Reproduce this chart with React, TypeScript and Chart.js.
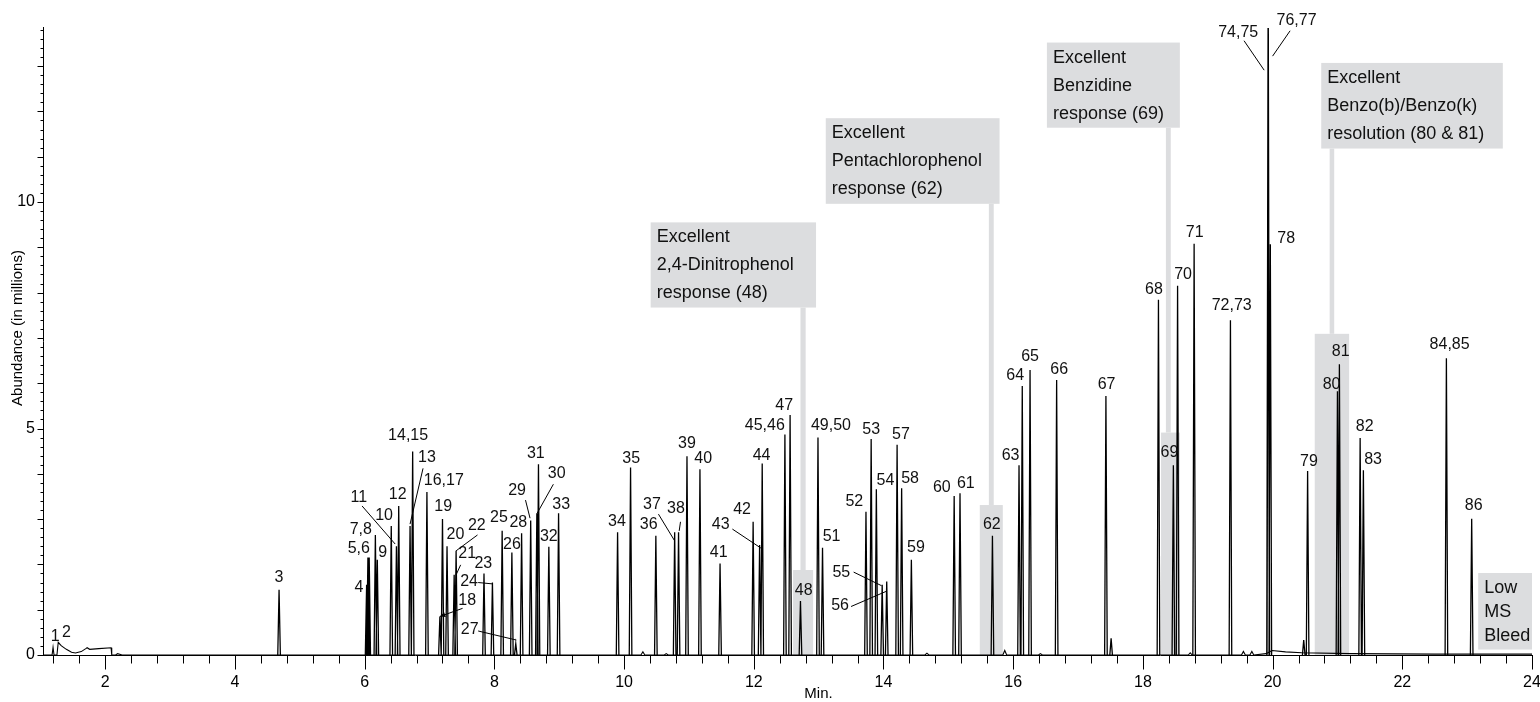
import React, { useEffect, useRef } from "react";
import { Chart, registerables } from "chart.js";

Chart.register(...registerables);

const FONT = "'Liberation Sans', Arial, Helvetica, sans-serif";
const GREY = "#dcdddf";

const X_MIN = 1.04;
const X_MAX = 24;
const Y_MAX = 13.85;

// x-axis labelled ticks (min) and y-axis labelled ticks (millions)
const xTickLabels = [2, 4, 6, 8, 10, 12, 14, 16, 18, 20, 22, 24];
const yTickLabels = [0, 5, 10];

// continuous trace: solvent front (peaks 1, 2), early hump and small baseline bumps
const traceTimes = [1.04, 1.18, 1.195, 1.21, 1.255, 1.275, 1.32, 1.40, 1.48, 1.54, 1.63, 1.70, 1.72, 1.76, 1.90, 2.09, 2.10, 2.16, 2.19, 2.26, 10.26, 10.29, 10.32, 10.62, 10.65, 10.68, 14.64, 14.67, 14.70, 15.84, 15.87, 15.90, 16.39, 16.42, 16.45, 18.70, 18.73, 18.76, 19.52, 19.55, 19.58, 19.65, 19.68, 19.71, 19.90, 19.99, 20.20, 20.45, 21.20, 22.50, 24.00];
const traceValues = [0, 0, 0.17, 0, 0, 0.28, 0.205, 0.125, 0.06, 0.045, 0.075, 0.14, 0.16, 0.125, 0.14, 0.16, 0, 0, 0.03, 0, 0, 0.07, 0, 0, 0.03, 0, 0, 0.04, 0, 0, 0.1, 0, 0, 0.03, 0, 0, 0.05, 0, 0, 0.08, 0, 0, 0.08, 0, 0.03, 0.1, 0.07, 0.05, 0.03, 0.02, 0.02];

// resolved peaks: retention time (min) and apex abundance (millions)
const peakTimes = [4.68, 6.03, 6.05, 6.07, 6.165, 6.195, 6.41, 6.49, 6.525, 6.70, 6.74, 6.96, 7.16, 7.20, 7.27, 7.38, 7.41, 7.84, 7.97, 8.12, 8.27, 8.33, 8.42, 8.56, 8.655, 8.68, 8.84, 8.99, 9.90, 10.10, 10.49, 10.78, 10.84, 10.97, 11.17, 11.48, 11.99, 12.09, 12.13, 12.48, 12.56, 12.72, 12.99, 13.06, 13.73, 13.81, 13.89, 13.98, 14.05, 14.21, 14.28, 14.43, 15.09, 15.18, 15.68, 16.09, 16.14, 16.26, 16.67, 17.43, 17.51, 18.24, 18.47, 18.535, 18.79, 19.35, 19.93, 19.934, 19.965, 20.48, 20.54, 21.00, 21.03, 21.35, 21.40, 22.68, 23.07];
const peakHeights = [1.44, 1.55, 2.15, 2.15, 2.65, 2.10, 2.85, 2.40, 3.29, 2.85, 4.49, 3.60, 0.85, 3.00, 2.40, 1.77, 2.30, 1.80, 1.60, 2.74, 2.26, 0.25, 2.69, 2.97, 3.13, 4.21, 2.39, 3.13, 2.71, 4.14, 2.63, 2.71, 2.71, 4.39, 4.10, 2.02, 2.94, 2.43, 4.23, 4.87, 5.30, 1.19, 4.80, 2.37, 3.16, 4.77, 3.66, 1.55, 1.62, 4.64, 3.68, 2.10, 3.51, 3.57, 2.63, 4.19, 5.94, 6.29, 6.07, 5.72, 0.37, 7.84, 4.19, 8.15, 9.08, 7.39, 13.84, 13.84, 9.07, 0.33, 4.06, 5.82, 6.42, 4.79, 4.08, 6.55, 3.01];

// peak number labels (text centre in data units)
const labelTexts = ["1", "2", "3", "4", "5,6", "7,8", "9", "10", "11", "12", "13", "14,15", "16,17", "18", "19", "20", "21", "22", "23", "24", "25", "26", "27", "28", "29", "30", "31", "32", "33", "34", "35", "36", "37", "38", "39", "40", "41", "42", "43", "44", "45,46", "47", "48", "49,50", "51", "52", "53", "54", "55", "56", "57", "58", "59", "60", "61", "62", "63", "64", "65", "66", "67", "68", "69", "70", "71", "72,73", "74,75", "76,77", "78", "79", "80", "81", "82", "83", "84,85", "86"];
const labelTimes = [1.23, 1.40, 4.68, 5.91, 5.91, 5.94, 6.28, 6.30, 5.91, 6.51, 6.96, 6.67, 7.22, 7.58, 7.21, 7.40, 7.58, 7.73, 7.83, 7.61, 8.07, 8.27, 7.62, 8.37, 8.35, 8.96, 8.64, 8.84, 9.03, 9.89, 10.11, 10.38, 10.43, 10.80, 10.97, 11.22, 11.46, 11.82, 11.49, 12.12, 12.17, 12.47, 12.77, 13.19, 13.20, 13.55, 13.81, 14.03, 13.35, 13.33, 14.27, 14.41, 14.50, 14.90, 15.27, 15.67, 15.96, 16.03, 16.26, 16.71, 17.44, 18.17, 18.41, 18.62, 18.80, 19.37, 19.47, 20.37, 20.21, 20.56, 20.91, 21.05, 21.42, 21.55, 22.73, 23.10];
const labelLevels = [0.40, 0.49, 1.70, 1.49, 2.34, 2.76, 2.26, 3.07, 3.48, 3.55, 4.36, 4.84, 3.86, 1.20, 3.27, 2.65, 2.23, 2.85, 2.02, 1.63, 3.04, 2.44, 0.57, 2.92, 3.62, 4.00, 4.45, 2.61, 3.33, 2.94, 4.34, 2.87, 3.31, 3.24, 4.66, 4.33, 2.26, 3.20, 2.87, 4.40, 5.06, 5.50, 1.43, 5.06, 2.61, 3.38, 4.98, 3.86, 1.82, 1.08, 4.86, 3.90, 2.36, 3.69, 3.79, 2.88, 4.40, 6.16, 6.59, 6.29, 5.98, 8.07, 4.47, 8.39, 9.33, 7.71, 13.75, 14.0, 9.20, 4.28, 5.98, 6.70, 5.04, 4.31, 6.85, 3.29];

// leader lines from a label to its peak: [t1, h1, t2, h2]
const leaderLines = [
  [5.96, 3.29, 6.47, 2.45],
  [6.90, 4.12, 6.70, 2.89],
  [7.51, 1.03, 7.16, 0.85],
  [7.48, 1.99, 7.41, 1.77],
  [7.74, 2.65, 7.41, 2.30],
  [7.75, 1.60, 7.97, 1.57],
  [7.75, 0.53, 8.34, 0.33],
  [8.48, 3.42, 8.55, 3.02],
  [8.91, 3.77, 8.66, 3.13],
  [10.53, 3.11, 10.78, 2.52],
  [10.87, 2.94, 10.85, 2.74],
  [11.67, 2.78, 12.11, 2.36],
  [13.54, 1.83, 13.97, 1.53],
  [13.50, 1.07, 14.05, 1.41],
  [19.56, 13.56, 19.87, 12.91],
  [20.27, 13.78, 20.00, 13.22],
];
const arrowLeader = 2; // index of the leader that ends in an arrow head

// call-out boxes: [tLeft, tRight, hTop, hBottom]
const calloutTexts = [
  ["Excellent", "2,4-Dinitrophenol", "response (48)"],
  ["Excellent", "Pentachlorophenol", "response (62)"],
  ["Excellent", "Benzidine", "response (69)"],
  ["Excellent", "Benzo(b)/Benzo(k)", "resolution (80 & 81)"],
  ["Low", "MS", "Bleed"],
];
const calloutBoxes = [
  [10.41, 12.96, 9.55, 7.67],
  [13.11, 15.79, 11.85, 9.96],
  [16.52, 18.57, 13.52, 11.64],
  [20.75, 23.55, 13.07, 11.18],
  [23.17, 24.0, 1.81, 0.12],
];
const calloutStems = [[12.72, 12.80], [15.625, 15.70], [18.355, 18.43], [20.88, 20.95], null];
const calloutTargets = [[12.606, 12.915, 1.876], [15.485, 15.84, 3.31], [18.28, 18.57, 4.91], [20.65, 21.18, 7.09], null];
const calloutLineGap = [28, 28, 28, 28, 24];

const PEAK_HALF_WIDTH = 0.02;

const annotPlugin = {
  id: "chromAnnotations",
  beforeDatasetsDraw(chart: any) {
    const { ctx } = chart;
    const xs = chart.scales.x;
    const ys = chart.scales.y;
    ctx.save();
    ctx.fillStyle = GREY;
    calloutBoxes.forEach((b, i) => {
      const x0 = xs.getPixelForValue(b[0]);
      const x1 = xs.getPixelForValue(b[1]);
      const y0 = ys.getPixelForValue(b[2]);
      const y1 = ys.getPixelForValue(b[3]);
      ctx.fillRect(x0, y0, x1 - x0, y1 - y0);
      const stem = calloutStems[i];
      const tgt = calloutTargets[i];
      if (stem && tgt) {
        const sx0 = xs.getPixelForValue(stem[0]);
        const sx1 = xs.getPixelForValue(stem[1]);
        const ty = ys.getPixelForValue(tgt[2]);
        ctx.fillRect(sx0, y1, sx1 - sx0, ty - y1);
        const tx0 = xs.getPixelForValue(tgt[0]);
        const tx1 = xs.getPixelForValue(tgt[1]);
        const by = ys.getPixelForValue(0);
        ctx.fillRect(tx0, ty, tx1 - tx0, by - ty);
      }
    });
    ctx.restore();
  },
  afterDatasetsDraw(chart: any) {
    const { ctx } = chart;
    const xs = chart.scales.x;
    const ys = chart.scales.y;
    ctx.save();
    // call-out text
    ctx.fillStyle = "#111";
    ctx.font = `18px ${FONT}`;
    ctx.textAlign = "left";
    ctx.textBaseline = "middle";
    calloutBoxes.forEach((b, i) => {
      const x0 = xs.getPixelForValue(b[0]);
      const y0 = ys.getPixelForValue(b[2]);
      calloutTexts[i].forEach((line, j) => {
        ctx.fillText(line, x0 + 6, y0 + 15 + j * calloutLineGap[i]);
      });
    });
    // peak labels
    ctx.font = `16px ${FONT}`;
    ctx.textAlign = "center";
    labelTexts.forEach((txt, i) => {
      ctx.fillText(txt, xs.getPixelForValue(labelTimes[i]), ys.getPixelForValue(labelLevels[i]));
    });
    // leaders
    ctx.strokeStyle = "#000";
    ctx.lineWidth = 1;
    leaderLines.forEach((l, i) => {
      const ax = xs.getPixelForValue(l[0]);
      const ay = ys.getPixelForValue(l[1]);
      const bx = xs.getPixelForValue(l[2]);
      const by = ys.getPixelForValue(l[3]);
      ctx.beginPath();
      ctx.moveTo(ax, ay);
      ctx.lineTo(bx, by);
      ctx.stroke();
      if (i === arrowLeader) {
        const ang = Math.atan2(by - ay, bx - ax);
        ctx.fillStyle = "#000";
        ctx.beginPath();
        ctx.moveTo(bx, by);
        ctx.lineTo(bx - 6 * Math.cos(ang - 0.45), by - 6 * Math.sin(ang - 0.45));
        ctx.lineTo(bx - 6 * Math.cos(ang + 0.45), by - 6 * Math.sin(ang + 0.45));
        ctx.closePath();
        ctx.fill();
      }
    });
    ctx.restore();
  },
  afterDraw(chart: any) {
    const { ctx, chartArea } = chart;
    const xs = chart.scales.x;
    const ys = chart.scales.y;
    ctx.save();
    ctx.strokeStyle = "#000";
    ctx.lineWidth = 1;
    ctx.beginPath();
    const base = Math.round(chartArea.bottom) + 0.5;
    for (let k = 3; k <= 60; k++) {
      const v = k * 0.4;
      const px = Math.round(xs.getPixelForValue(v)) + 0.5;
      ctx.moveTo(px, base);
      ctx.lineTo(px, base + (k % 5 === 0 ? 14 : 8));
    }
    const left = Math.round(chartArea.left) + 0.5;
    for (let k = 0; k <= 69; k++) {
      const v = k * 0.2;
      const py = Math.round(ys.getPixelForValue(v)) + 0.5;
      ctx.moveTo(left, py);
      ctx.lineTo(left - (k % 5 === 0 ? 6 : 3), py);
    }
    ctx.stroke();
    ctx.fillStyle = "#000";
    ctx.font = `15px ${FONT}`;
    ctx.textAlign = "center";
    ctx.textBaseline = "middle";
    ctx.fillText("Min.", (chartArea.left + chartArea.right) / 2 + 31, 694);
    ctx.translate(18, 328);
    ctx.rotate(-Math.PI / 2);
    ctx.fillText("Abundance (in millions)", 0, 0);
    ctx.restore();
  },
};

export default function App() {
  const ref = useRef<HTMLCanvasElement | null>(null);
  useEffect(() => {
    if (!ref.current) return;
    const trace = traceTimes.map((t, i) => ({ x: t, y: traceValues[i] }));
    const peaks: any[] = [];
    peakTimes.forEach((t, i) => {
      peaks.push({ x: t - PEAK_HALF_WIDTH, y: 0 });
      peaks.push({ x: t, y: peakHeights[i] });
      peaks.push({ x: t + PEAK_HALF_WIDTH, y: 0 });
      peaks.push({ x: t + PEAK_HALF_WIDTH, y: null });
    });
    const chart = new Chart(ref.current, {
      type: "line",
      data: {
        datasets: [
          { label: "trace", data: trace, borderColor: "#000", borderWidth: 1.1, pointRadius: 0, tension: 0, fill: false },
          { label: "peaks", data: peaks, borderColor: "#000", borderWidth: 1.3, pointRadius: 0, tension: 0, fill: false, spanGaps: false },
        ],
      },
      options: {
        responsive: false,
        animation: false,
        events: [],
        layout: { padding: { top: 27.6, right: 8, left: 0, bottom: 0 } },
        plugins: { legend: { display: false }, tooltip: { enabled: false }, title: { display: false } },
        scales: {
          x: {
            type: "linear",
            min: X_MIN,
            max: X_MAX,
            border: { display: true, color: "#000", width: 1 },
            grid: { display: false, drawTicks: false },
            ticks: { font: { family: FONT, size: 16 }, color: "#000", padding: 18, autoSkip: false, maxRotation: 0, callback: (v: any) => String(v) },
            afterBuildTicks: (s: any) => { s.ticks = xTickLabels.map((v) => ({ value: v })); },
            afterFit: (s: any) => { s.height = 47; s.paddingLeft = 0; s.paddingRight = 0; },
          },
          y: {
            type: "linear",
            min: 0,
            max: Y_MAX,
            border: { display: true, color: "#000", width: 1 },
            grid: { display: false, drawTicks: false },
            ticks: { font: { family: FONT, size: 16 }, color: "#000", padding: 8, autoSkip: false, callback: (v: any) => String(v) },
            afterBuildTicks: (s: any) => { s.ticks = yTickLabels.map((v) => ({ value: v })); },
            afterFit: (s: any) => { s.width = 43; s.paddingTop = 0; s.paddingBottom = 0; },
          },
        },
      } as any,
      plugins: [annotPlugin],
    });
    return () => chart.destroy();
  }, []);
  return (
    <div style={{ position: "fixed", left: 0, top: 0, width: 1540, height: 702, background: "#fff" }}>
      <canvas ref={ref} width={1540} height={702} style={{ display: "block" }} />
    </div>
  );
}
